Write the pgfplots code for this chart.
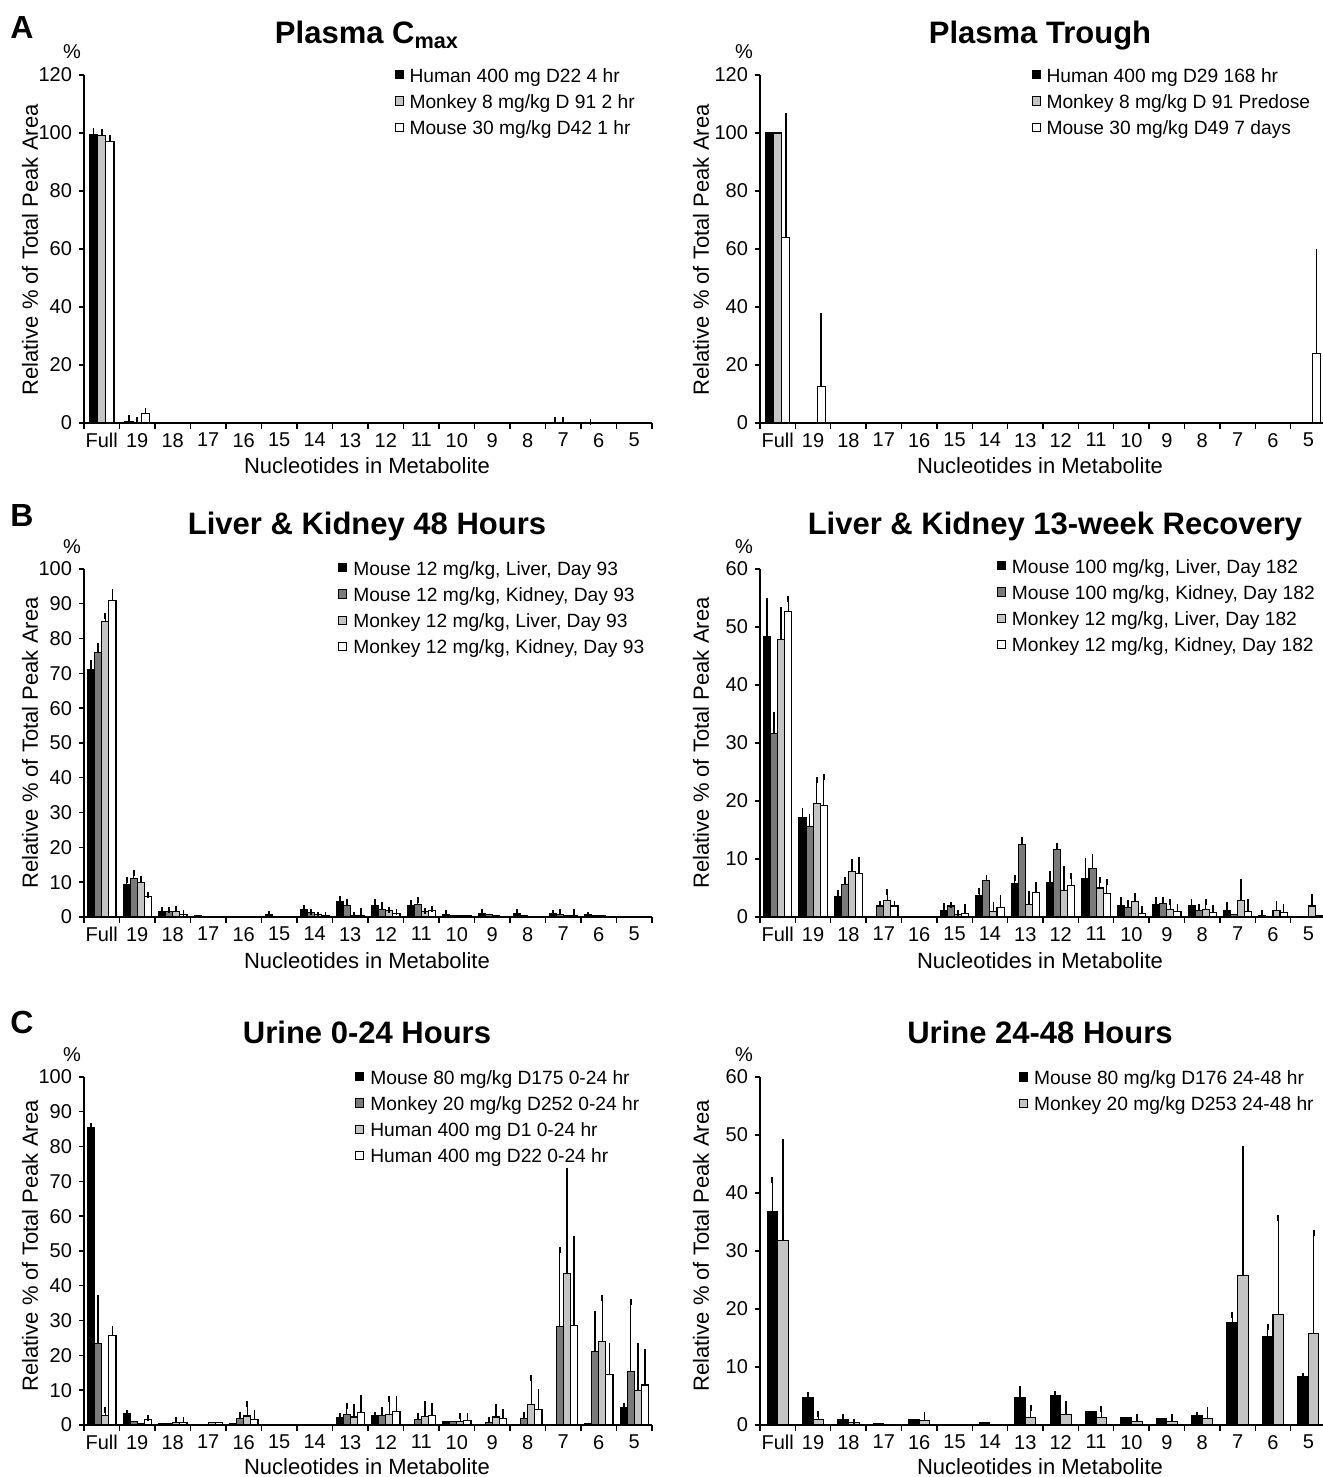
\documentclass[border=0pt]{standalone}
\usepackage{fontspec}
\setmainfont{Liberation Sans}
\usepackage{pgfplots}
\pgfplotsset{compat=1.18}
\definecolor{dgray}{HTML}{7A7A7A}
\definecolor{lgray}{HTML}{C4C4C4}

\pgfplotsset{
  panel/.style={
    scale only axis, width=284pt, height=174pt,
    anchor=south west,
    axis lines*=left,
    axis line style={line width=0.8pt},
    xmin=-0.5, xmax=15.5, ymin=0,
    xtick={0,...,15},
    xticklabels={Full,19,18,17,16,15,14,13,12,11,10,9,8,7,6,5},
    minor xtick={-0.5,0.5,...,15.5},
    major x tick style={draw=none},
    minor tick length=3pt,
    major tick length=2.5pt,
    tick align=outside,
    tick style={black, line width=0.7pt},
    tick label style={font=\fontsize{10}{12}\selectfont},
    xticklabel style={yshift=1pt},
    /pgf/number format/assume math mode=true,
    ybar=0pt,
    clip=false,
    error bars/y dir=plus, error bars/y explicit,
    error bars/error bar style={line width=0.75pt,black},
    error bars/error mark options={black,line width=0.9pt,mark size=1.5pt},
    legend style={draw=none, fill=none, anchor=north west, inner sep=0pt,
      font=\fontsize{9.6}{12}\selectfont, row sep=3.1pt,
      nodes={inner sep=0pt, text height=7.5pt, text depth=2.5pt},
      /tikz/every odd column/.append style={column sep=3pt}},
    legend cell align=left,
  },
  sq/.style={legend image code/.code={\draw[##1,/tikz/.cd,line width=0.5pt] (0pt,-0.8pt) rectangle (4pt,3.3pt);}},
  bk/.style={fill=black, draw=black, line width=0.55pt, sq},
  dg/.style={fill=dgray, draw=black, line width=0.55pt, sq},
  lg/.style={fill=lgray, draw=black, line width=0.55pt, sq},
  wh/.style={fill=white, draw=black, line width=0.55pt, sq},
}

\begin{document}
\begin{tikzpicture}
\path[use as bounding box] (0pt,0pt) rectangle (661pt,738.5pt);

% ---------- A: Plasma Cmax ----------
\begin{axis}[panel, at={(42pt,527pt)}, ymax=120, ytick={0,20,...,120},
  bar width=0.23, legend style={at={(axis description cs:0.546,1.023)}}]
\addplot[bk] coordinates {(0,99.5)+-(0,1.2) (1,0.4)+-(0,1.3) (8,0.15) (13,0.3)+-(0,0.6) (14,0.3)+-(0,0.2) (15,0.15)};
\addlegendentry{Human 400 mg D22 4 hr}
\addplot[lg] coordinates {(0,99)+-(0,1.5) (1,0.3)+-(0,0.7) (8,0.1) (13,0.3)+-(0,0.7) (14,0.1) (15,0.1)};
\addlegendentry{Monkey 8 mg/kg D 91 2 hr}
\addplot[wh] coordinates {(0,97)+-(0,1.2) (1,3.2)+-(0,0.8)};
\addlegendentry{Mouse 30 mg/kg D42 1 hr}
\end{axis}

% ---------- A: Plasma Trough ----------
\begin{axis}[panel, at={(380pt,527pt)}, width=283pt, ymax=120, ytick={0,20,...,120},
  bar width=0.23, legend style={at={(axis description cs:0.479,1.023)}}]
\addplot[bk] coordinates {(0,100)};
\addlegendentry{Human 400 mg D29 168 hr}
\addplot[lg] coordinates {(0,100)};
\addlegendentry{Monkey 8 mg/kg D 91 Predose}
\addplot[wh] coordinates {(0,64)+-(0,42) (1,12.5)+-(0,24.5) (15,24)+-(0,35)};
\addlegendentry{Mouse 30 mg/kg D49 7 days}
\end{axis}

% ---------- B: Liver & Kidney 48 Hours ----------
\begin{axis}[panel, at={(42pt,280pt)}, ymax=100, ytick={0,10,...,100},
  bar width=0.2, legend style={at={(axis description cs:0.447,1.026)}}]
\addplot[bk] coordinates {(0,71)+-(0,2) (1,9.3)+-(0,1.2) (2,1.5)+-(0,0.5) (3,0.3) (5,0.7)+-(0,0.3) (6,2)+-(0,0.5) (7,4.3)+-(0,1) (8,3.4)+-(0,1) (9,3.2)+-(0,0.7) (10,0.8)+-(0,0.3) (11,1.1)+-(0,0.2) (12,1.1)+-(0,0.2) (13,0.9)+-(0,0.3) (14,0.6)+-(0,0.1)};
\addlegendentry{Mouse 12 mg/kg, Liver, Day 93}
\addplot[dg] coordinates {(0,76)+-(0,2) (1,11)+-(0,1.5) (2,1.6)+-(0,0.4) (6,1.2)+-(0,0.3) (7,3.4)+-(0,0.8) (8,2.2)+-(0,1.2) (9,3.6)+-(0,1.2) (10,0.4) (11,0.6) (12,0.4) (13,0.6)+-(0,0.8) (14,0.5)};
\addlegendentry{Mouse 12 mg/kg, Kidney, Day 93}
\addplot[lg] coordinates {(0,85)+-(0,1.5) (1,10)+-(0,1) (2,1.6)+-(0,0.6) (6,0.6)+-(0,0.1) (7,0.5)+-(0,0.2) (8,1.8)+-(0,0.3) (9,1.5)+-(0,0.3) (10,0.3) (11,0.3) (13,0.5) (14,0.3)};
\addlegendentry{Monkey 12 mg/kg, Liver, Day 93}
\addplot[wh] coordinates {(0,91)+-(0,2.5) (1,5.8)+-(0,0.5) (2,0.8)+-(0,0.4) (6,0.4)+-(0,0.1) (7,0.4)+-(0,1.2) (8,1)+-(0,0.3) (9,1.8)+-(0,0.4) (10,0.3) (11,0.2) (13,0.5)+-(0,0.8)};
\addlegendentry{Monkey 12 mg/kg, Kidney, Day 93}
\end{axis}

% ---------- B: Liver & Kidney 13-week Recovery ----------
\begin{axis}[panel, at={(380pt,280pt)}, width=283pt, ymax=60, ytick={0,10,...,60},
  bar width=0.2, legend style={at={(axis description cs:0.418,1.032)}}]
\addplot[bk] coordinates {(0,48.3)+-(0,6.2) (1,17.1)+-(0,1.2) (2,3.5)+-(0,0.7) (4,0.1) (5,1.1)+-(0,0.8) (6,3.7)+-(0,0.8) (7,5.8)+-(0,0.9) (8,5.9)+-(0,1.5) (9,6.7)+-(0,3) (10,2.0)+-(0,0.9) (11,2.1)+-(0,0.8) (12,1.9)+-(0,0.6) (13,1.1)+-(0,0.9) (14,0.3)+-(0,0.4)};
\addlegendentry{Mouse 100 mg/kg, Liver, Day 182}
\addplot[dg] coordinates {(0,31.6)+-(0,3.3) (1,15.6)+-(0,1.6) (2,5.6)+-(0,0.8) (3,1.9)+-(0,0.4) (5,1.9)+-(0,0.1) (6,6.3)+-(0,0.4) (7,12.5)+-(0,0.7) (8,11.7)+-(0,0.6) (9,8.3)+-(0,2) (10,1.7)+-(0,0.7) (11,2.4)+-(0,0.6) (12,1.1)+-(0,0.6) (13,0.5)};
\addlegendentry{Mouse 100 mg/kg, Kidney, Day 182}
\addplot[lg] coordinates {(0,47.9)+-(0,5) (1,19.5)+-(0,4.1) (2,7.9)+-(0,1.6) (3,2.8)+-(0,1.5) (5,0.5)+-(0,0.2) (6,1.0)+-(0,1.1) (7,2.2)+-(0,1.7) (8,4.5)+-(0,3.8) (9,5.0)+-(0,1.3) (10,2.7)+-(0,0.9) (11,1.3)+-(0,1.2) (12,1.3)+-(0,1.3) (13,2.8)+-(0,3.3) (14,1.1)+-(0,1.1) (15,1.9)+-(0,1.5)};
\addlegendentry{Monkey 12 mg/kg, Liver, Day 182}
\addplot[wh] coordinates {(0,52.6)+-(0,2.2) (1,19.2)+-(0,5) (2,7.5)+-(0,2.4) (3,1.9)+-(0,0.4) (5,0.6)+-(0,1.1) (6,1.7)+-(0,1.5) (7,4.3)+-(0,1.3) (8,5.5)+-(0,1.6) (9,4.1)+-(0,1.9) (10,0.6)+-(0,0.7) (11,1.0)+-(0,0.8) (12,0.8)+-(0,0.8) (13,1.0)+-(0,1.6) (14,0.7)+-(0,1) (15,0.3)};
\addlegendentry{Monkey 12 mg/kg, Kidney, Day 182}
\end{axis}

% ---------- C: Urine 0-24 Hours ----------
\begin{axis}[panel, at={(42pt,26pt)}, ymax=100, ytick={0,10,...,100},
  bar width=0.2, legend style={at={(axis description cs:0.477,1.023)}}]
\addplot[bk] coordinates {(0,85.5)+-(0,0.5) (1,3.2)+-(0,0.3) (2,0.4) (3,0.2) (4,0.4) (6,0.2) (7,2.2)+-(0,0.3) (8,2.7)+-(0,0.1) (10,0.9) (11,0.2) (12,0.2) (14,0.3) (15,4.9)+-(0,0.7)};
\addlegendentry{Mouse 80 mg/kg D175 0-24 hr}
\addplot[dg] coordinates {(0,23.5)+-(0,13) (1,0.9) (2,0.4) (3,0.2) (4,1.9)+-(0,1.1) (6,0.2) (7,2.9)+-(0,2.5) (8,2.7)+-(0,1.7) (9,1.7)+-(0,1) (10,0.9) (11,0.7)+-(0,0.8) (12,1.9)+-(0,1.1) (13,28.3)+-(0,22) (14,21.2)+-(0,10.8) (15,15.4)+-(0,19.9)};
\addlegendentry{Monkey 20 mg/kg D252 0-24 hr}
\addplot[lg] coordinates {(0,2.7)+-(0,1.7) (1,0.5) (2,0.8)+-(0,0.5) (3,0.7) (4,2.6)+-(0,3.5) (6,0.1) (7,2.3)+-(0,3) (8,3.0)+-(0,4.4) (9,2.5)+-(0,3.4) (10,1.0)+-(0,1.5) (11,2.3)+-(0,3) (12,5.9)+-(0,7.7) (13,43.6)+-(0,29.4) (14,24.1)+-(0,12.3) (15,10)+-(0,12.7)};
\addlegendentry{Human 400 mg D1 0-24 hr}
\addplot[wh] coordinates {(0,25.7)+-(0,2) (1,1.7)+-(0,0.3) (2,0.8)+-(0,0.6) (3,0.7) (4,1.7)+-(0,1.8) (6,0.1) (7,3.6)+-(0,4.1) (8,3.8)+-(0,3.6) (9,2.7)+-(0,2.9) (10,1.2)+-(0,1.3) (11,1.8)+-(0,1.8) (12,4.4)+-(0,5) (13,28.5)+-(0,25) (14,14.4)+-(0,8.4) (15,11.5)+-(0,9.5)};
\addlegendentry{Human 400 mg D22 0-24 hr}
\end{axis}

% ---------- C: Urine 24-48 Hours ----------
\begin{axis}[panel, at={(380pt,26pt)}, width=283pt, ymax=60, ytick={0,10,...,60},
  bar width=0.3, legend style={at={(axis description cs:0.457,1.023)}}]
\addplot[bk] coordinates {(0,36.8)+-(0,5.4) (1,4.7)+-(0,0.5) (2,1.0)+-(0,0.4) (3,0.2) (4,0.9) (6,0.35) (7,4.8)+-(0,1.4) (8,5.1)+-(0,0.2) (9,2.4) (10,1.3) (11,1.1) (12,1.6)+-(0,0.1) (13,17.7)+-(0,1.2) (14,15.2)+-(0,1.7) (15,8.3)+-(0,0.1)};
\addlegendentry{Mouse 80 mg/kg D176 24-48 hr}
\addplot[lg] coordinates {(0,31.8)+-(0,17) (1,0.9)+-(0,1) (2,0.4)+-(0,0.2) (4,0.8)+-(0,0.9) (7,1.3)+-(0,1.6) (8,1.8)+-(0,1.8) (9,1.3)+-(0,1.5) (10,0.6)+-(0,0.7) (11,0.6)+-(0,0.7) (12,1.1)+-(0,1.4) (13,25.7)+-(0,21.9) (14,19.1)+-(0,16.6) (15,15.8)+-(0,17.3)};
\addlegendentry{Monkey 20 mg/kg D253 24-48 hr}
\end{axis}

% ---------- titles and labels (pixel coordinates) ----------
\begin{scope}[x=0.5pt, y=-0.5pt, shift={(0pt,738.5pt)}]
\tikzset{ttl/.style={anchor=base, font=\bfseries\fontsize{15.5}{18}\selectfont},
         xl/.style={anchor=base, font=\fontsize{11}{13}\selectfont},
         yl/.style={rotate=90, font=\fontsize{11}{13}\selectfont},
         pc/.style={font=\fontsize{10}{12}\selectfont},
         lt/.style={font=\bfseries\fontsize{16}{18}\selectfont}}
\node[lt] at (22,28) {A};
\node[lt] at (22,516) {B};
\node[lt] at (22,1022) {C};
\node[ttl] at (367,44) {Plasma C\textsubscript{max}};
\node[ttl] at (1040,44) {Plasma Trough};
\node[ttl] at (367,535) {Liver \& Kidney 48 Hours};
\node[ttl] at (1055,535) {Liver \& Kidney 13-week Recovery};
\node[ttl] at (367,1044) {Urine 0-24 Hours};
\node[ttl] at (1040,1044) {Urine 24-48 Hours};
\foreach \yy in {474,969,1474} {
  \node[xl] at (367,\yy) {Nucleotides in Metabolite};
  \node[xl] at (1040,\yy) {Nucleotides in Metabolite};
}
\foreach \yy in {250,743,1246} {
  \node[yl] at (30,\yy) {Relative \% of Total Peak Area};
  \node[yl] at (701,\yy) {Relative \% of Total Peak Area};
}
\foreach \yy in {52,547,1055} {
  \node[pc] at (72,\yy) {\%};
  \node[pc] at (744,\yy) {\%};
}
\end{scope}
\end{tikzpicture}
\end{document}
